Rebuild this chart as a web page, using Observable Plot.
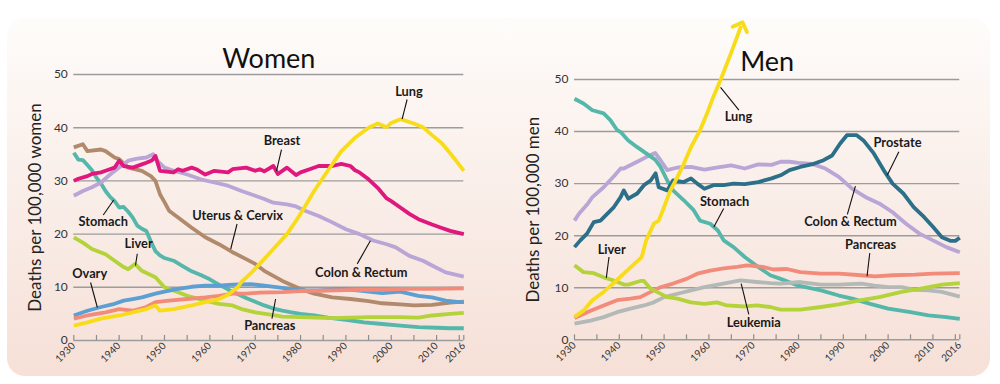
<!DOCTYPE html>
<html><head><meta charset="utf-8">
<script src="https://cdn.jsdelivr.net/npm/d3@7"></script>
<script src="https://cdn.jsdelivr.net/npm/@observablehq/plot@0.6"></script>
<style>
html,body{margin:0;padding:0;background:#fff;}
#wrap{position:relative;width:1000px;height:384px;overflow:hidden;}
#bg{position:absolute;left:7px;top:18px;width:983px;height:358px;border-radius:18px;
 background:linear-gradient(to bottom,#fefcfa 0%,#faefea 45%,#f6e0d7 100%);}
#women,#men{position:absolute;top:0;width:500px;height:384px;}
#women{left:0}#men{left:500px}
</style></head><body>
<div id="wrap"><div id="bg"></div><div id="women"></div><div id="men"></div></div>
<script>
// ---------- axis values ----------
const gridValues = [0, 10, 20, 30, 40, 50];
const tickYears = [1930,1935,1940,1945,1950,1955,1960,1965,1970,1975,1980,1985,1990,1995,2000,2005,2010,2015,2016];
const labelYears = [1930,1940,1950,1960,1970,1980,1990,2000,2010,2016];

// ---------- Women series: [year, deaths per 100,000] ----------
const womenStomach = [[1930,35.3],[1931,34.0],[1932,33.9],[1933,33.0],[1934,32.0],[1935,30.6],[1936,29.5],[1937,28.1],[1938,27.0],[1939,26.2],[1940,25.0],[1941,25.1],[1942,24.2],[1943,23.1],[1944,21.6],[1945,21.0],[1946,20.6],[1947,18.6],[1948,16.8],[1949,16.0],[1950,15.5],[1952,15.0],[1954,14.0],[1956,13.0],[1958,12.3],[1960,11.5],[1962,10.5],[1964,9.6],[1966,8.8],[1968,8.0],[1970,7.3],[1972,6.6],[1974,6.0],[1976,5.6],[1978,5.3],[1980,5.0],[1983,4.7],[1986,4.3],[1990,3.9],[1994,3.4],[1998,3.1],[2002,2.8],[2006,2.5],[2010,2.4],[2013,2.3],[2016,2.3]];
const womenUterus = [[1930,36.3],[1932,36.9],[1933,35.6],[1936,35.9],[1937,35.6],[1939,34.4],[1940,34.1],[1942,32.5],[1945,31.9],[1947,30.9],[1948,30.0],[1949,27.5],[1950,26.0],[1951,24.4],[1953,23.1],[1956,21.2],[1959,19.4],[1962,18.1],[1965,16.6],[1968,15.3],[1970,14.4],[1972,13.1],[1976,11.2],[1980,9.7],[1983,8.8],[1987,8.1],[1991,7.8],[1995,7.4],[1998,7.0],[2002,6.8],[2005,6.6],[2009,6.7],[2013,7.1],[2016,7.3]];
const womenColon = [[1930,27.2],[1932,28.1],[1934,28.8],[1936,29.7],[1938,31.2],[1940,32.5],[1942,33.8],[1944,34.2],[1946,34.4],[1947.5,35.0],[1948,34.1],[1950,32.5],[1952,31.9],[1955,31.2],[1958,30.3],[1961,29.7],[1964,29.1],[1967,28.1],[1970,27.2],[1972,26.6],[1974,25.9],[1977,25.6],[1979,25.2],[1981,24.4],[1984,23.4],[1987,22.2],[1990,20.9],[1993,20.0],[1996,18.8],[1999,18.1],[2001,17.5],[2004,15.9],[2007,15.0],[2009,14.1],[2012,12.8],[2016,12.0]];
const womenBreast = [[1930,30.0],[1931,30.4],[1933,30.9],[1934,31.3],[1936,31.6],[1937,31.9],[1939,32.5],[1940,33.8],[1941,32.8],[1943,32.5],[1945,33.1],[1946,33.4],[1947.3,33.9],[1948,34.7],[1949,31.9],[1952,31.6],[1953,32.2],[1954,31.9],[1956,32.5],[1957,32.2],[1959,31.2],[1961,31.9],[1964,31.6],[1965,32.2],[1968,32.5],[1970,31.9],[1971,32.2],[1972,31.8],[1974,32.8],[1975,31.3],[1977,32.5],[1979,31.1],[1980,31.6],[1982,32.2],[1984,32.8],[1987,32.8],[1989,33.2],[1991,32.8],[1992,32.0],[1993,31.6],[1995,30.3],[1997,28.7],[1999,26.7],[2000,26.2],[2002,25.0],[2004,23.8],[2006,22.8],[2009,21.8],[2011,21.2],[2013,20.6],[2016,20.0]];
const womenLiver = [[1930,19.4],[1932,18.4],[1934,17.2],[1937,16.2],[1939,15.0],[1941,13.8],[1942,13.4],[1943.5,14.4],[1945,13.1],[1948,11.9],[1950,10.0],[1952,9.4],[1955,8.4],[1959,7.5],[1962,6.9],[1965,6.6],[1967,5.9],[1970,5.3],[1973,4.9],[1976,4.5],[1980,4.4],[1987,4.2],[1995,4.4],[2002,4.4],[2006,4.3],[2009,4.7],[2013,5.0],[2016,5.2]];
const womenOvary = [[1930,4.7],[1933,5.6],[1936,6.3],[1939,6.9],[1941,7.5],[1943,7.8],[1945,8.1],[1948,8.8],[1950,9.2],[1953,9.7],[1956,10.1],[1959,10.3],[1962,10.3],[1965,10.5],[1969,10.6],[1972,10.3],[1976,9.9],[1980,9.4],[1984,9.4],[1989,9.7],[1993,9.4],[1998,8.9],[2002,9.2],[2006,8.4],[2009,8.1],[2012,7.5],[2015,7.2],[2016,7.2]];
const womenPancreas = [[1930,4.1],[1933,4.7],[1937,5.3],[1940,5.9],[1943,5.6],[1946,6.3],[1948,7.2],[1951,7.5],[1955,7.8],[1959,8.1],[1962,8.4],[1965,8.8],[1968,8.8],[1971,9.0],[1976,9.1],[1980,9.3],[1986,9.4],[1992,9.5],[1998,9.5],[2003,9.7],[2009,9.7],[2016,9.8]];
const womenLung = [[1930,2.8],[1933,3.4],[1936,4.1],[1940,4.7],[1943,5.3],[1946,5.9],[1948,6.6],[1949,5.6],[1952,5.9],[1956,6.6],[1959,7.2],[1962,7.8],[1964,8.6],[1966,9.9],[1967,11.0],[1969,12.6],[1971,14.4],[1974,17.2],[1977,20.0],[1979,22.5],[1980,23.8],[1983,28.1],[1986,31.9],[1989,35.6],[1992,38.1],[1995,40.0],[1997,40.8],[1999,40.1],[2000,40.9],[2002,41.6],[2005,40.8],[2007,40.1],[2009,38.6],[2011,37.2],[2013,35.2],[2015,33.0],[2016,31.9]];

// ---------- Men series ----------
const menColon = [[1930,22.9],[1931,24.2],[1933,26.2],[1934,27.4],[1936.5,29.3],[1939,31.6],[1940.3,32.9],[1941,32.9],[1944,34.2],[1946,35.1],[1948,35.9],[1949.2,34.5],[1950.7,32.6],[1953,33.1],[1956,33.2],[1959,32.7],[1962,33.1],[1965,33.5],[1968,32.9],[1971,33.7],[1974,33.6],[1976,34.2],[1978,34.2],[1980,34.0],[1983,33.8],[1986,32.9],[1989,31.3],[1992,29.0],[1995,27.4],[1998,26.2],[2001,24.5],[2004,22.3],[2007,20.4],[2010,19.1],[2013,17.8],[2016,16.8]];
const menProstate = [[1930,17.8],[1931.3,19.1],[1932.8,20.4],[1934.3,22.6],[1935.8,22.9],[1937.3,24.2],[1938.8,25.5],[1940.3,27.4],[1941,28.7],[1942,27.1],[1944,28.1],[1945.5,29.7],[1947,30.6],[1948.1,32.0],[1948.8,29.3],[1950.7,28.7],[1952,30.6],[1954.4,30.3],[1956,31.0],[1957.4,30.0],[1959,29.0],[1961,29.7],[1963.3,29.7],[1965.5,30.0],[1968,29.9],[1971,30.3],[1974,31.0],[1976,31.6],[1978,32.6],[1980.4,33.2],[1983.4,33.8],[1985.6,34.5],[1987.5,35.4],[1989.3,37.7],[1990.8,39.3],[1993,39.3],[1994.5,38.3],[1996.8,35.8],[1999,32.6],[2001,30.0],[2003.4,28.1],[2005.7,25.5],[2008,23.6],[2010,21.7],[2012,19.7],[2014,19.0],[2015,19.0],[2016,19.6]];
const menStomach = [[1930,46.3],[1932,45.4],[1934,44.1],[1936.5,43.5],[1938,42.2],[1939.5,40.3],[1940.3,39.9],[1942,38.3],[1944,37.0],[1946,35.8],[1948,34.6],[1949.2,33.2],[1950.7,30.6],[1952,28.7],[1954.4,26.8],[1956.6,24.9],[1958,22.9],[1960.3,22.3],[1962,21.0],[1963.3,19.1],[1965.5,17.8],[1968,15.9],[1971,14.0],[1973.7,12.4],[1976,11.7],[1980,10.4],[1985,9.5],[1989,8.5],[1992,7.9],[1996,6.9],[2000,6.0],[2005,5.3],[2009,4.7],[2013,4.35],[2016,4.0]];
const menPancreas = [[1930,4.2],[1933.6,5.6],[1936.5,6.6],[1939.5,7.6],[1942.5,7.9],[1944.7,8.2],[1947,9.2],[1949.2,10.1],[1952,10.8],[1955,11.7],[1957.4,12.7],[1960.3,13.3],[1963.3,13.7],[1966.3,14.0],[1968.5,14.3],[1972,14.0],[1974.4,13.5],[1977.4,13.6],[1980.4,13.0],[1985,12.7],[1989,12.7],[1994,12.4],[1997,12.2],[2001,12.4],[2006,12.5],[2010,12.7],[2016,12.8]];
const menLeukemia = [[1930,3.1],[1933.6,3.7],[1936.5,4.35],[1939.5,5.3],[1942.5,6.0],[1945.5,6.6],[1947.7,7.2],[1950,8.2],[1953,8.85],[1956,9.5],[1959,10.1],[1962,10.6],[1965,11.1],[1967,11.4],[1970.7,11.1],[1973.7,10.9],[1976,10.8],[1980.4,11.1],[1985,10.6],[1989,10.6],[1994,10.8],[1997,10.4],[2000,10.1],[2003,10.1],[2006,9.6],[2009,9.5],[2012,9.2],[2016,8.3]];
const menLiver = [[1930,14.3],[1932,13.0],[1934.3,12.8],[1936.5,12.0],[1938.8,11.4],[1941,10.6],[1942,10.6],[1944.7,11.3],[1945.5,11.3],[1947,9.8],[1948.4,9.2],[1950.7,8.2],[1953,7.9],[1956,7.2],[1959,6.9],[1961.8,7.2],[1964,6.6],[1968,6.4],[1970.7,6.6],[1973.7,6.3],[1976,5.8],[1980.4,5.8],[1985,6.3],[1989,6.8],[1994,7.6],[1998,8.2],[2003,9.2],[2007,9.8],[2012,10.6],[2016,10.9]];
const menLung = [[1930,4.4],[1932,5.6],[1934,7.6],[1936.5,9.2],[1939,11.1],[1941,12.7],[1943,14.3],[1945,15.9],[1946,19.1],[1947.7,22.3],[1948.8,22.9],[1950,25.5],[1951.4,28.7],[1953,31.3],[1954.4,33.8],[1956,37.0],[1958,40.2],[1959.6,43.5],[1961,46.7],[1962.6,49.9],[1965,55.2],[1967.2,60.3]];

// ---------- annotations: label, text position, leader line (data units) ----------
const womenNotes = [
  {label:"Lung", tx:2003.9, ty:46.7, x1:2003.5, y1:45.3, x2:2002.4, y2:41.6},
  {label:"Breast", tx:1975.9, ty:37.5, x1:1975.8, y1:35.9, x2:1974.7, y2:31.9},
  {label:"Stomach", tx:1936.5, ty:22.3, x1:1936.5, y1:23.6, x2:1938.8, y2:26.4},
  {label:"Uterus & Cervix", tx:1966.1, ty:23.4, x1:1966.0, y1:21.9, x2:1964.6, y2:17.2},
  {label:"Liver", tx:1944.3, ty:18.2, x1:1944.0, y1:16.3, x2:1943.6, y2:14.1},
  {label:"Ovary", tx:1933.5, ty:12.6, x1:1933.7, y1:10.9, x2:1935.2, y2:6.2},
  {label:"Colon & Rectum", tx:1993.4, ty:12.75, x1:1992.5, y1:14.4, x2:1995.4, y2:18.75},
  {label:"Pancreas", tx:1973.2, ty:2.8, x1:1973.7, y1:4.1, x2:1974.5, y2:7.8}
];
const menNotes = [
  {label:"Lung", tx:1966.6, ty:42.9, x1:1966.7, y1:44.1, x2:1962.6, y2:48.5},
  {label:"Prostate", tx:2002.1, ty:37.75, x1:2002.4, y1:36.1, x2:1999.8, y2:31.6},
  {label:"Stomach", tx:1963.5, ty:26.4, x1:1963.3, y1:25.2, x2:1961.1, y2:21.65},
  {label:"Colon & Rectum", tx:1991.6, ty:22.6, x1:1990.9, y1:24.1, x2:1992.7, y2:29.5},
  {label:"Pancreas", tx:1996.1, ty:18.3, x1:1995.9, y1:16.65, x2:1995.3, y2:12.2},
  {label:"Liver", tx:1938.3, ty:17.2, x1:1937.7, y1:15.9, x2:1937.1, y2:11.9},
  {label:"Leukemia", tx:1970.0, ty:3.3, x1:1968.9, y1:4.9, x2:1967.2, y2:10.8}
];

const colors = {
  lung:"#f8dc1a", breast:"#e0177d", stomach:"#55b6aa", uterus:"#b18a6c", colon:"#b9a5d6",
  liver:"#b4d23a", ovary:"#5c9fd3", pancreas:"#f28b7a", prostate:"#2b6f88", leukemia:"#b3b9b6"
};

const womenSeries = [
  {data: womenStomach, color: colors.stomach},
  {data: womenUterus, color: colors.uterus},
  {data: womenColon, color: colors.colon},
  {data: womenBreast, color: colors.breast},
  {data: womenLiver, color: colors.liver},
  {data: womenOvary, color: colors.ovary},
  {data: womenPancreas, color: colors.pancreas},
  {data: womenLung, color: colors.lung}
];
const menSeries = [
  {data: menColon, color: colors.colon},
  {data: menStomach, color: colors.stomach},
  {data: menProstate, color: colors.prostate},
  {data: menPancreas, color: colors.pancreas},
  {data: menLeukemia, color: colors.leukemia},
  {data: menLiver, color: colors.liver},
  {data: menLung, color: colors.lung, arrow: true}
];

function panel({title, yLabel, series, notes, mL, mR, mT, mB, titleDy, labelDx}) {
  const H = 384, frameH = H - mT - mB;
  return Plot.plot({
    width: 500, height: H,
    marginLeft: mL, marginRight: mR, marginTop: mT, marginBottom: mB,
    style: {background: "transparent", fontFamily: "Lato, 'Noto Sans', sans-serif", overflow: "visible"},
    x: {domain: [1930, 2016], axis: null},
    y: {domain: [0, 50]},
    marks: [
      Plot.ruleY(gridValues, {stroke: "#9c9c9c", strokeWidth: 1.4}),
      Plot.tickX(tickYears, {x: d => d, stroke: "#8c8c8c", strokeWidth: 1.2, insetTop: frameH - 5}),
      Plot.axisY({ticks: gridValues, tickSize: 0, tickPadding: 6, fontSize: 12, color: "#333", label: null}),
      Plot.text(labelYears, {x: d => d, text: d => String(d), frameAnchor: "bottom", rotate: -45, textAnchor: "end",
        dx: 2, dy: 6, fontSize: 10, fill: "#333"}),
      ...series.map(s => Plot.line(s.data, {x: d => d[0], y: d => d[1], stroke: s.color, strokeWidth: 3.8,
        strokeLinejoin: "round", strokeLinecap: "butt", ...(s.arrow ? {markerEnd: "arrow"} : {})})),
      Plot.link(notes, {x1: "x1", y1: "y1", x2: "x2", y2: "y2", stroke: "#111", strokeWidth: 1.1}),
      Plot.text(notes, {x: "tx", y: "ty", text: "label", fontWeight: 700, fontSize: 12.8, fill: "#1a1a1a"}),
      Plot.text([title], {frameAnchor: "top", lineAnchor: "bottom", dy: titleDy, fontSize: 27, fill: "#111"}),
      Plot.text([yLabel], {frameAnchor: "left", textAnchor: "middle", rotate: -90, dx: labelDx, fontSize: 17, fill: "#222"})
    ]
  });
}

document.getElementById("women").append(panel({
  title: "Women", yLabel: "Deaths per 100,000 women", series: womenSeries, notes: womenNotes,
  mL: 73.3, mR: 36.7, mT: 74, mB: 44, titleDy: -7, labelDx: -38
}));
document.getElementById("men").append(panel({
  title: "Men", yLabel: "Deaths per 100,000 men", series: menSeries, notes: menNotes,
  mL: 74, mR: 40.7, mT: 79, mB: 44.7, titleDy: -9, labelDx: -41
}));
</script>
</body></html>
